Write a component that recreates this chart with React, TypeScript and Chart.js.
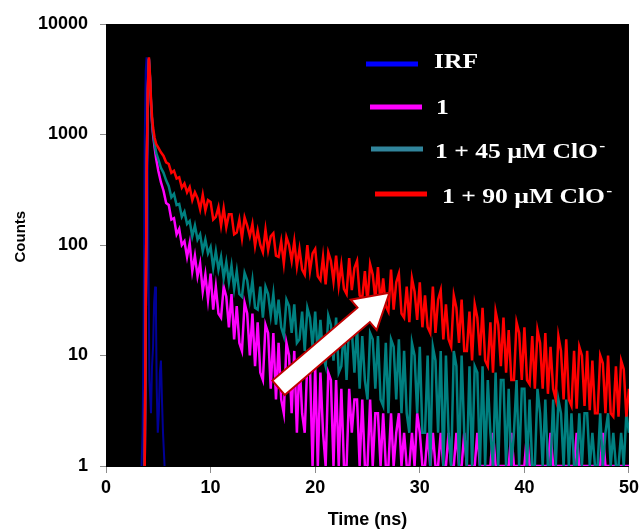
import React, { useEffect, useRef } from 'react';
import { Chart, registerables } from 'chart.js';

Chart.register(...registerables);

// Time channels (ns)
const times = [
  3.5, 3.6, 3.7, 3.8, 3.9, 4.0, 4.1, 4.2, 4.3, 4.4, 4.5, 4.65, 4.8,
  5, 5.25, 5.5, 5.75, 6, 6.25, 6.5, 6.75, 7, 7.25, 7.5, 7.75,
  8, 8.25, 8.5, 8.75, 9, 9.25, 9.5, 9.75, 10, 10.25, 10.5, 10.75,
  11, 11.25, 11.5, 11.75, 12, 12.25, 12.5, 12.75, 13, 13.25, 13.5, 13.75,
  14, 14.25, 14.5, 14.75, 15, 15.25, 15.5, 15.75, 16, 16.25, 16.5, 16.75,
  17, 17.25, 17.5, 17.75, 18, 18.25, 18.5, 18.75, 19, 19.25, 19.5, 19.75,
  20, 20.25, 20.5, 20.75, 21, 21.25, 21.5, 21.75, 22, 22.25, 22.5, 22.75,
  23, 23.25, 23.5, 23.75, 24, 24.25, 24.5, 24.75, 25, 25.25, 25.5, 25.75,
  26, 26.25, 26.5, 26.75, 27, 27.25, 27.5, 27.75, 28, 28.25, 28.5, 28.75,
  29, 29.25, 29.5, 29.75, 30, 30.25, 30.5, 30.75, 31, 31.25, 31.5, 31.75,
  32, 32.25, 32.5, 32.75, 33, 33.25, 33.5, 33.75, 34, 34.25, 34.5, 34.75,
  35, 35.25, 35.5, 35.75, 36, 36.25, 36.5, 36.75, 37, 37.25, 37.5, 37.75,
  38, 38.25, 38.5, 38.75, 39, 39.25, 39.5, 39.75, 40, 40.25, 40.5, 40.75,
  41, 41.25, 41.5, 41.75, 42, 42.25, 42.5, 42.75, 43, 43.25, 43.5, 43.75,
  44, 44.25, 44.5, 44.75, 45, 45.25, 45.5, 45.75, 46, 46.25, 46.5, 46.75,
  47, 47.25, 47.5, 47.75, 48, 48.25, 48.5, 48.75, 49, 49.25, 49.5, 49.75,
  50,
];

// IRF (instrument response)
const irfTimes = [3.4, 3.5, 3.6, 3.7, 3.8, 3.88, 3.95, 4.05, 4.15, 4.3, 4.4, 4.5, 4.6, 4.7, 4.78, 4.85, 4.95, 5.05, 5.15, 5.25, 5.35, 5.45, 5.6];
const irfCounts = [1, 2, 20, 900, 3800, 5000, 2000, 80, 6, 3, 8, 12, 30, 42, 22, 5, 2, 3, 7, 9, 4, 2, 1];

// probe 1
const probeCounts = [
  null, null, 1, 25, 520, 2400, 4800, 3300, 1900, 1300, 1000, 760, 600,
  470, 370, 310, 240, 230, 170, 175, 125, 140, 100, 108, 78,
  104, 58, 80, 52, 68, 38, 54, 32, 55, 26, 42, 24,
  22, 42, 34, 18, 36, 14, 28, 13, 11, 30, 24, 10,
  24, 8, 20, 7, 6, 19, 16, 5, 16, 4, 13, 4,
  3, 13, 10, 3, 11, 2, 9, 3, 2, 9, 8, 1,
  8, 1, 7, 2, 1, 7, 6, 1, 6, 1, 5, 1,
  1, 5, 2, 4, 4, 1, 4, 1, 1, 4, 1, 3,
  3, 1, 3, 1, 1, 3, 1, 2, 3, 1, 2, 1,
  1, 2, 1, 3, 2, 1, 1, 2, 1, 2, 1, 1,
  2, 1, 1, 2, 1, 1, 2, 1, 1, 2, 1, 1,
  1, 1, 2, 1, 1, 1, 1, 1, 2, 1, 1, 1,
  1, 1, 1, 2, 1, 1, 1, 1, 1, 2, 1, 1,
  1, 1, 1, 1, 1, 1, 2, 1, 1, 1, 1, 1,
  1, 1, 1, 1, 2, 1, 1, 1, 1, 1, 1, 1,
  1, 1, 2, 1, 1, 1, 1, 1, 1, 1, 1, 1,
  1,
];

// 1 + 45 uM ClO-
const clo45Counts = [
  null, null, 1, 25, 550, 2500, 4900, 3400, 2000, 1350, 1050, 820, 680,
  600, 500, 450, 385, 340, 270, 290, 230, 235, 180, 200, 155,
  165, 120, 150, 112, 125, 88, 112, 84, 96, 62, 88, 60,
  78, 50, 70, 46, 65, 40, 58, 36, 34, 56, 48, 32,
  48, 27, 26, 42, 22, 42, 36, 23, 36, 19, 32, 18,
  15, 32, 28, 16, 29, 13, 14, 25, 11, 27, 22, 12,
  25, 10, 21, 10, 8, 23, 19, 9, 22, 7, 8, 18,
  6, 20, 17, 7, 18, 5, 15, 6, 4, 16, 14, 5,
  15, 4, 3.5, 13, 3, 14, 12, 4, 14, 3, 11, 3,
  2, 13, 10, 3, 12, 2, 2, 10, 1, 12, 9, 2,
  11, 1, 10, 2, 1, 11, 8, 1, 10, 2, 1, 8,
  1, 8, 7, 1, 8, 1, 6, 2, 1, 7, 1, 6,
  6, 1, 5, 1, 2, 6, 1, 5, 5, 1, 4, 1,
  1, 5, 3, 1, 4, 1, 1, 4, 1, 4, 3, 1,
  4, 1, 3, 1, 1, 3, 1, 3, 3, 1, 2, 1,
  1, 3, 1, 2, 3, 1, 2, 1, 1, 2, 1, 3,
  2,
];

// 1 + 90 uM ClO-
const clo90Counts = [
  null, null, 1, 30, 600, 2600, 5000, 3500, 2100, 1450, 1150, 930, 820,
  760, 690, 640, 560, 540, 450, 470, 400, 410, 330, 360, 300,
  335, 255, 300, 265, 210, 285, 205, 255, 245, 170, 180, 220,
  150, 215, 145, 190, 190, 125, 130, 170, 115, 178, 150, 120,
  155, 98, 135, 100, 86, 138, 90, 120, 128, 80, 78, 108,
  68, 118, 100, 72, 108, 64, 92, 60, 54, 100, 58, 84,
  92, 52, 48, 78, 44, 86, 72, 47, 80, 43, 66, 40,
  36, 76, 39, 62, 72, 35, 33, 58, 30, 67, 54, 32,
  63, 29, 50, 28, 25, 60, 26, 46, 55, 24, 22, 42,
  20, 50, 38, 21, 46, 18, 35, 18, 16, 42, 16, 32,
  39, 14, 29, 14, 12, 35, 27, 13, 32, 11, 11, 25,
  9, 29, 22, 10, 27, 9, 8, 20, 7, 25, 19, 8,
  22, 7, 17, 6, 6, 20, 16, 6, 18, 6, 5.5, 15,
  5, 17, 13, 5, 16, 4.5, 12, 5, 4, 15, 11, 4,
  14, 4, 3.5, 11, 3.3, 12, 10, 3.5, 11, 3.2, 9, 3,
  3, 10, 8.5, 3, 10, 3, 2.8, 8, 2.8, 9, 7.5, 2.8,
  5,
];

const xTicks = [0, 10, 20, 30, 40, 50];
const yTicks = [1, 10, 100, 1000, 10000];
const legendLabels = ['IRF', '1', '1 + 45 \u00B5M ClO', '1 + 90 \u00B5M ClO'];
const legendSuperscript = [false, false, true, true];
const arrowTail = { x: 16.5, y: 5.1 };
const arrowTip = { x: 27.1, y: 37 };

const RED = '#ff0000';
const TEAL = '#008080';
const MAGENTA = '#ff00ff';
const NAVY = '#000096';
const legendColors = ['#0000ff', '#ff00ff', '#31859c', '#ff0000'];

export default function App() {
  const ref = useRef<HTMLCanvasElement>(null);

  useEffect(() => {
    document.body.style.margin = '0';
    const canvas = ref.current;
    if (!canvas) return;
    const toPts = (xs: number[], ys: (number | null)[]) => xs.map((x, i) => ({ x, y: ys[i] }));

    const bgPlugin = {
      id: 'plotBg',
      beforeDraw(chart: any) {
        const { ctx, chartArea: a } = chart;
        ctx.save();
        ctx.fillStyle = '#ffffff';
        ctx.fillRect(0, 0, chart.width, chart.height);
        ctx.fillStyle = '#000000';
        ctx.fillRect(a.left, a.top, a.right - a.left, a.bottom - a.top);
        ctx.restore();
      },
    };

    const overlayPlugin = {
      id: 'overlay',
      afterDatasetsDraw(chart: any) {
        const { ctx } = chart;
        const xs = chart.scales.x;
        const ys = chart.scales.y;
        // arrow
        const tx = xs.getPixelForValue(arrowTail.x);
        const ty = ys.getPixelForValue(arrowTail.y);
        const px = xs.getPixelForValue(arrowTip.x);
        const py = ys.getPixelForValue(arrowTip.y);
        const dx = px - tx;
        const dy = py - ty;
        const len = Math.hypot(dx, dy);
        const ux = dx / len;
        const uy = dy / len;
        const nx = -uy;
        const ny = ux;
        const sh = 9.5;
        const hh = 20;
        const hl = 34;
        const bx = px - ux * hl;
        const by = py - uy * hl;
        ctx.save();
        ctx.beginPath();
        ctx.moveTo(tx + nx * sh, ty + ny * sh);
        ctx.lineTo(bx + nx * sh, by + ny * sh);
        ctx.lineTo(bx + nx * hh, by + ny * hh);
        ctx.lineTo(px, py);
        ctx.lineTo(bx - nx * hh, by - ny * hh);
        ctx.lineTo(bx - nx * sh, by - ny * sh);
        ctx.lineTo(tx - nx * sh, ty - ny * sh);
        ctx.closePath();
        ctx.fillStyle = '#ffffff';
        ctx.fill();
        ctx.lineWidth = 2;
        ctx.strokeStyle = '#c00000';
        ctx.lineJoin = 'miter';
        ctx.stroke();
        ctx.restore();

        // legend
        const lineX = [366, 370, 371, 375];
        const lineY = [64, 107, 149, 194];
        const textX = [434, 436, 435, 442];
        const baseY = [68, 114, 158, 203];
        ctx.save();
        for (let i = 0; i < legendLabels.length; i++) {
          ctx.beginPath();
          ctx.strokeStyle = legendColors[i];
          ctx.lineWidth = 5;
          ctx.lineCap = 'butt';
          ctx.moveTo(lineX[i], lineY[i]);
          ctx.lineTo(lineX[i] + 52, lineY[i]);
          ctx.stroke();
          ctx.save();
          ctx.translate(textX[i], baseY[i]);
          ctx.scale(1.28, 1);
          ctx.fillStyle = '#ffffff';
          ctx.textBaseline = 'alphabetic';
          ctx.textAlign = 'left';
          ctx.font = 'bold 20px "Liberation Serif", "Times New Roman", serif';
          ctx.fillText(legendLabels[i], 0, 0);
          if (legendSuperscript[i]) {
            const w = ctx.measureText(legendLabels[i]).width;
            ctx.font = 'bold 14px "Liberation Serif", "Times New Roman", serif';
            ctx.fillText('-', w + 1, -8);
          }
          ctx.restore();
        }
        ctx.restore();
      },
    };

    const tickFont = { family: '"Liberation Sans", Arial, sans-serif', size: 18, weight: 'bold' as const };

    const chart = new Chart(canvas, {
      type: 'line',
      data: {
        datasets: [
          { label: '1 + 90 µM ClO-', data: toPts(times, clo90Counts) as any, borderColor: RED, borderWidth: 2.5, order: 0 },
          { label: '1 + 45 µM ClO-', data: toPts(times, clo45Counts) as any, borderColor: TEAL, borderWidth: 2.5, order: 1 },
          { label: '1', data: toPts(times, probeCounts) as any, borderColor: MAGENTA, borderWidth: 2.5, order: 2 },
          { label: 'IRF', data: toPts(irfTimes, irfCounts) as any, borderColor: NAVY, borderWidth: 2, order: 3 },
        ],
      },
      options: {
        animation: false,
        responsive: false,
        maintainAspectRatio: false,
        events: [],
        datasets: {
          line: { pointRadius: 0, tension: 0, spanGaps: false, fill: false },
        },
        layout: { padding: { left: 0, right: 13, top: 24, bottom: 0 } },
        plugins: { legend: { display: false }, tooltip: { enabled: false } },
        scales: {
          x: {
            type: 'linear',
            min: 0,
            max: 50,
            afterBuildTicks: (s: any) => { s.ticks = xTicks.map((v) => ({ value: v })); },
            afterFit: (s: any) => { s.height = 65; },
            ticks: { color: '#000', font: tickFont, padding: 4, maxRotation: 0, autoSkip: false, callback: (v: any) => String(v) },
            grid: { display: true, drawOnChartArea: false, drawTicks: true, tickLength: 7, color: '#8c8c8c' },
            border: { display: true, color: '#000' },
            title: {
              display: true,
              text: 'Time (ns)',
              color: '#000',
              font: { family: '"Liberation Sans", Arial, sans-serif', size: 18, weight: 'bold' },
              padding: { top: 0, bottom: 0 },
            },
          },
          y: {
            type: 'logarithmic',
            min: 1,
            max: 10000,
            afterBuildTicks: (s: any) => { s.ticks = yTicks.map((v) => ({ value: v })); },
            afterFit: (s: any) => { s.width = 106; },
            ticks: { color: '#000', font: tickFont, padding: 12, autoSkip: false, callback: (v: any) => String(v) },
            grid: { display: true, drawOnChartArea: false, drawTicks: true, tickLength: 6, color: '#8c8c8c' },
            border: { display: true, color: '#000' },
            title: {
              display: true,
              text: '    Counts',
              color: '#000',
              font: { family: '"Liberation Sans", Arial, sans-serif', size: 15, weight: 'bold' },
              padding: { top: 12, bottom: 0 },
            },
          },
        },
      },
      plugins: [bgPlugin, overlayPlugin],
    });

    return () => chart.destroy();
  }, []);

  return (
    <div style={{ width: 643, height: 531, overflow: 'hidden' }}>
      <canvas ref={ref} width={643} height={531} style={{ display: 'block' }} />
    </div>
  );
}
